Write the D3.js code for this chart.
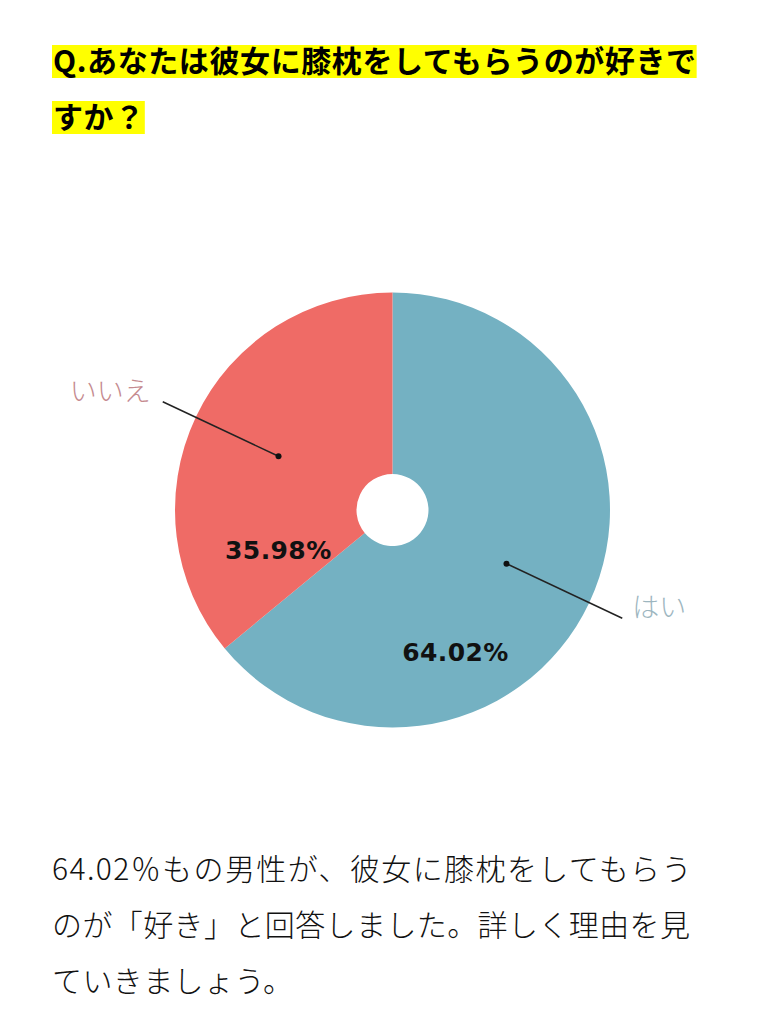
<!DOCTYPE html>
<html>
<head>
<meta charset="utf-8">
<script src="https://cdn.jsdelivr.net/npm/d3@7"></script>
<style>
  html, body { margin: 0; padding: 0; background: #fff; }
  svg { display: block; }
</style>
</head>
<body>
<script>
// data
var categories = ["はい", "いいえ"];
var values = [64.02, 35.98];
var colors = ["#74b1c2", "#ef6b66"];
var labelColors = ["#9db6bf", "#c58a8f"];
var titleLines = ["Q.あなたは彼女に膝枕をしてもらうのが好きで", "すか？"];
var bodyLines = ["64.02％もの男性が、彼女に膝枕をしてもらう", "のが「好き」と回答しました。詳しく理由を見", "ていきましょう。"];

// layout
var W = 765, H = 1024;
var cx = 392.5, cy = 510, outerR = 217.5, innerR = 36;
var pctT = [0.677, 0.156], pctR = [155, 121];

var svg = d3.select("body").append("svg")
	.attr("width", W)
	.attr("height", H);

// title with yellow highlight
var title = svg.append("g");
titleLines.forEach(function(line, i){
	var y = 72 + i * 56;
	var bg = title.append("rect").attr("fill", "#ffff00");
	var t = title.append("text")
		.attr("x", 53)
		.attr("y", y)
		.attr("font-family", "'Noto Sans CJK JP', sans-serif")
		.attr("font-weight", "bold")
		.attr("font-size", 30)
		.attr("letter-spacing", 0.6)
		.attr("fill", "#000")
		.text(line);
	var w = t.node().getComputedTextLength();
	bg.attr("x", 52)
		.attr("y", y - 27)
		.attr("width", w + 1)
		.attr("height", 33);
});

// pie
var pie = d3.pie().sort(null).startAngle(0).endAngle(2 * Math.PI);
var arcs = pie(values);
var arc = d3.arc().innerRadius(innerR).outerRadius(outerR);

var g = svg.append("g").attr("transform", "translate(" + cx + "," + cy + ")");

g.selectAll("path.slice")
	.data(arcs)
	.enter()
	.append("path")
	.attr("class", "slice")
	.attr("d", arc)
	.attr("fill", function(d, i){ return colors[i]; });

// leader lines: radial from r=126 to r=254 through slice centre
var midAngle = function(d){ return (d.startAngle + d.endAngle) / 2; };
var polar = function(a, r){ return [r * Math.sin(a), -r * Math.cos(a)]; };

g.selectAll("line.leader")
	.data(arcs)
	.enter()
	.append("line")
	.attr("class", "leader")
	.attr("x1", function(d){ return polar(midAngle(d), 126)[0]; })
	.attr("y1", function(d){ return polar(midAngle(d), 126)[1]; })
	.attr("x2", function(d){ return polar(midAngle(d), 254)[0]; })
	.attr("y2", function(d){ return polar(midAngle(d), 254)[1]; })
	.attr("stroke", "#222")
	.attr("stroke-width", 1.5);

g.selectAll("circle.dot")
	.data(arcs)
	.enter()
	.append("circle")
	.attr("class", "dot")
	.attr("cx", function(d){ return polar(midAngle(d), 126)[0]; })
	.attr("cy", function(d){ return polar(midAngle(d), 126)[1]; })
	.attr("r", 3)
	.attr("fill", "#111");

g.selectAll("text.cat")
	.data(arcs)
	.enter()
	.append("text")
	.attr("class", "cat")
	.attr("x", function(d){
		var p = polar(midAngle(d), 254);
		return p[0] > 0 ? p[0] + 10 : p[0] - 12;
	})
	.attr("y", function(d){ return polar(midAngle(d), 254)[1] - 1; })
	.attr("text-anchor", function(d){ return polar(midAngle(d), 254)[0] > 0 ? "start" : "end"; })
	.attr("font-family", "'Noto Sans CJK JP', sans-serif")
	.attr("font-weight", 300)
	.attr("font-size", 27)
	.attr("fill", function(d, i){ return labelColors[i]; })
	.text(function(d, i){ return categories[i]; });

// percentages
var fmt = d3.format(".2f");
g.selectAll("text.pct")
	.data(arcs)
	.enter()
	.append("text")
	.attr("class", "pct")
	.attr("x", function(d, i){
		var a = d.startAngle + pctT[i] * (d.endAngle - d.startAngle);
		return polar(a, pctR[i])[0];
	})
	.attr("y", function(d, i){
		var a = d.startAngle + pctT[i] * (d.endAngle - d.startAngle);
		return polar(a, pctR[i])[1] + 9;
	})
	.attr("text-anchor", "middle")
	.attr("font-family", "'DejaVu Sans', Verdana, sans-serif")
	.attr("font-weight", "bold")
	.attr("font-size", 25)
	.attr("letter-spacing", 0.4)
	.attr("fill", "#111")
	.text(function(d){ return fmt(d.data) + "%"; });

// body text
svg.append("g").selectAll("text")
	.data(bodyLines)
	.enter()
	.append("text")
	.attr("x", 52)
	.attr("y", function(d, i){ return 880 + i * 56; })
	.attr("font-family", "'Noto Sans CJK JP', sans-serif")
	.attr("font-weight", 300)
	.attr("font-size", 30)
	.attr("letter-spacing", function(d, i){ return i === 0 ? 1.4 : 0.4; })
	.attr("fill", "#111")
	.text(function(d){ return d; });
</script>
</body>
</html>
